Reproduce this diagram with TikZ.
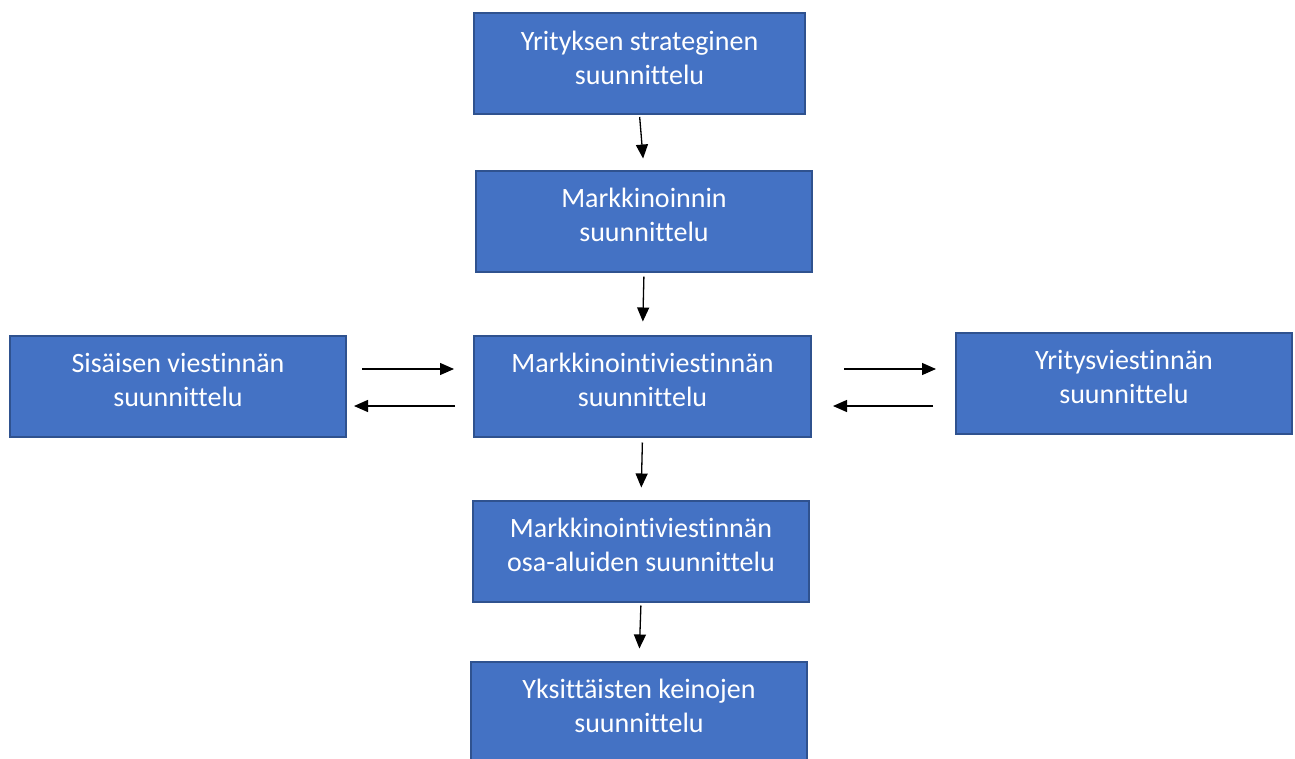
\documentclass[tikz,border=0pt]{standalone}
\usepackage{fontspec}
\setmainfont{Carlito}[Ligatures=NoCommon]
\usetikzlibrary{arrows.meta}
\definecolor{boxfill}{HTML}{4472C4}
\definecolor{boxline}{HTML}{2F528F}
\tikzset{
  planbox/.style={draw=boxline, line width=2pt, fill=boxfill, text=white,
    minimum width=336pt, minimum height=101pt, align=center, text depth=12pt,
    font=\fontsize{28}{34}\selectfont},
  flow/.style={-{Triangle[length=14pt,width=12pt]}, line width=1.3pt}
}
\begin{document}
\begin{tikzpicture}[x=1pt,y=-1pt]
    \useasboundingbox (0,0) rectangle (1295,758);

    % Middle column
    \node[planbox, minimum width=331pt] (strat) at (639.5,63.5) {Yrityksen strateginen\\suunnittelu};
    \node[planbox] (mark) at (644,221) {Markkinoinnin\\suunnittelu};
    \node[planbox, minimum width=337pt] (mviest) at (642.5,386) {Markkinointiviestinnän\\suunnittelu};
    \node[planbox] (osa) at (641,551) {Markkinointiviestinnän\\osa-aluiden suunnittelu};
    \node[planbox] (keinot) at (639,712) {Yksittäisten keinojen\\suunnittelu};

    % Sides
    \node[planbox] (sisainen) at (178,386) {Sisäisen viestinnän\\suunnittelu};
    \node[planbox] (yritys) at (1124,383) {Yritysviestinnän\\suunnittelu};

    % Arrows down
    \draw[flow, shorten <=2pt, shorten >=11pt] (strat.south) -- (mark.north);
    \draw[flow, shorten <=4pt, shorten >=13pt] (mark.south) -- (mviest.north);
    \draw[flow, shorten <=5pt, shorten >=12pt] (mviest.south) -- (osa.north);
    \draw[flow, shorten <=3pt, shorten >=12pt] (osa.south) -- (keinot.north);

    % Arrows left
    \draw[flow, shorten <=15pt, shorten >=19pt] ([yshift=17pt]sisainen.east) -- ([yshift=17pt]mviest.west);
    \draw[flow, shorten <=18pt, shorten >=7pt] ([yshift=-20pt]mviest.west) -- ([yshift=-20pt]sisainen.east);

    % Arrows right
    \draw[flow, shorten <=32pt, shorten >=19pt] ([yshift=17pt]mviest.east) -- ([yshift=14pt]yritys.west);
    \draw[flow, shorten <=22pt, shorten >=21pt] ([yshift=-23pt]yritys.west) -- ([yshift=-20pt]mviest.east);
\end{tikzpicture}
\end{document}
